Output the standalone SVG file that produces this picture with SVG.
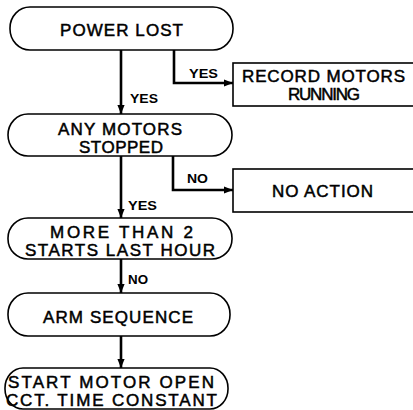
<svg xmlns="http://www.w3.org/2000/svg" width="413" height="410" viewBox="0 0 413 410">
<defs>
<marker id="ah" viewBox="0 0 10 10" refX="10" refY="5" markerWidth="3.5" markerHeight="3.5" orient="auto" markerUnits="strokeWidth">
<path d="M0,1 L10,5 L0,9 Z" fill="#000"/>
</marker>
<style>
.term{fill:#fff;stroke:#000;stroke-width:1.6}
.box{fill:#fff;stroke:#000;stroke-width:1.6}
.t{font-family:"Liberation Sans","DejaVu Sans",sans-serif;font-size:17px;fill:#000;stroke:#000;stroke-width:0.5;text-anchor:middle}
.l{font-family:"Liberation Sans","DejaVu Sans",sans-serif;font-size:13px;font-weight:bold;fill:#000}
.c{fill:none;stroke:#000;stroke-width:2.6;marker-end:url(#ah)}
</style>
</defs>
<rect width="413" height="410" fill="#fff"/>
<g id="connectors">
<path class="c" d="M121,50 V114"/>
<path class="c" d="M121,156 V218"/>
<path class="c" d="M121,259 V293"/>
<path class="c" d="M121,336 V368"/>
<path class="c" d="M174,50 V83 H233"/>
<path class="c" d="M173,156 V190 H233"/>
<text class="l" x="130" y="103" textLength="28" lengthAdjust="spacingAndGlyphs">YES</text>
<text class="l" x="189" y="78" textLength="29" lengthAdjust="spacingAndGlyphs">YES</text>
<text class="l" x="187" y="183" textLength="21" lengthAdjust="spacingAndGlyphs">NO</text>
<text class="l" x="128" y="210" textLength="29" lengthAdjust="spacingAndGlyphs">YES</text>
<text class="l" x="128" y="284" textLength="20" lengthAdjust="spacingAndGlyphs">NO</text>
</g>
<g id="power-lost">
<rect class="term" x="10" y="7" width="223" height="43" rx="20" ry="21"/>
<text class="t" x="121.5" y="36" textLength="123" lengthAdjust="spacing">POWER LOST</text>
</g>
<g id="record-motors">
<rect class="box" x="233" y="63" width="200" height="43"/>
<text class="t" x="323.5" y="82" textLength="163" lengthAdjust="spacing">RECORD MOTORS</text>
<text class="t" x="324" y="100" textLength="72" lengthAdjust="spacing">RUNNING</text>
</g>
<g id="any-motors">
<rect class="term" x="8" y="114" width="224" height="42" rx="20" ry="21"/>
<text class="t" x="120" y="134.5" textLength="124" lengthAdjust="spacing">ANY MOTORS</text>
<text class="t" x="121" y="152.5" textLength="84" lengthAdjust="spacing">STOPPED</text>
</g>
<g id="no-action">
<rect class="box" x="233" y="169" width="200" height="43"/>
<text class="t" x="322.5" y="197" textLength="101" lengthAdjust="spacing">NO ACTION</text>
</g>
<g id="more-than-2">
<rect class="term" x="8" y="218" width="224" height="41" rx="20" ry="20"/>
<text class="t" x="121.5" y="238" textLength="143" lengthAdjust="spacing">MORE THAN 2</text>
<text class="t" x="120" y="256" textLength="190" lengthAdjust="spacing">STARTS LAST HOUR</text>
</g>
<g id="arm-sequence">
<rect class="term" x="8" y="293" width="222" height="43" rx="20" ry="21"/>
<text class="t" x="118" y="323" textLength="150" lengthAdjust="spacing">ARM SEQUENCE</text>
</g>
<g id="start-motor">
<rect class="term" x="5" y="368" width="223" height="41" rx="18" ry="20"/>
<text class="t" x="111" y="388" textLength="206" lengthAdjust="spacing">START MOTOR OPEN</text>
<text class="t" x="111.5" y="406" textLength="211" lengthAdjust="spacing">CCT. TIME CONSTANT</text>
</g>
</svg>
